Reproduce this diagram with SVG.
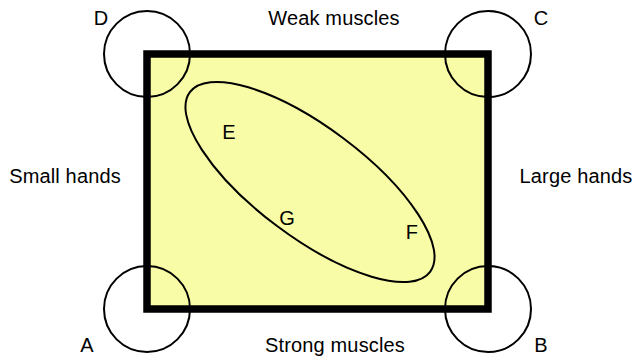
<svg xmlns="http://www.w3.org/2000/svg" width="634" height="358" viewBox="0 0 634 358">
<style>
text{font-family:"Liberation Sans",Arial,sans-serif;font-size:20px;letter-spacing:0.15px;fill:#000;text-anchor:middle}
.c{fill:none;stroke:#000;stroke-width:2}
</style>
<rect width="634" height="358" fill="#fff"/>
<g id="region">
<rect x="147" y="54" width="341" height="255" fill="#f8fca6" stroke="#000" stroke-width="7.5"/>
</g>
<g id="nodeD"><circle class="c" cx="147" cy="54" r="43"/><text x="101" y="25">D</text></g>
<g id="nodeC"><circle class="c" cx="488" cy="54" r="43"/><text x="541" y="25">C</text></g>
<g id="nodeA"><circle class="c" cx="147" cy="309" r="43"/><text x="87" y="352">A</text></g>
<g id="nodeB"><circle class="c" cx="488" cy="309" r="43"/><text x="541" y="352">B</text></g>
<g id="nodeEFG">
<ellipse class="c" cx="310" cy="182" rx="150" ry="55" transform="rotate(36.8 310 182)"/>
<text x="229" y="139">E</text>
<text x="287" y="225">G</text>
<text x="412" y="239">F</text>
</g>
<g id="labels">
<text x="334" y="25">Weak muscles</text>
<text x="335" y="352">Strong muscles</text>
<text x="65" y="183">Small hands</text>
<text x="576" y="183">Large hands</text>
</g>
<g id="connectors"/>
</svg>
